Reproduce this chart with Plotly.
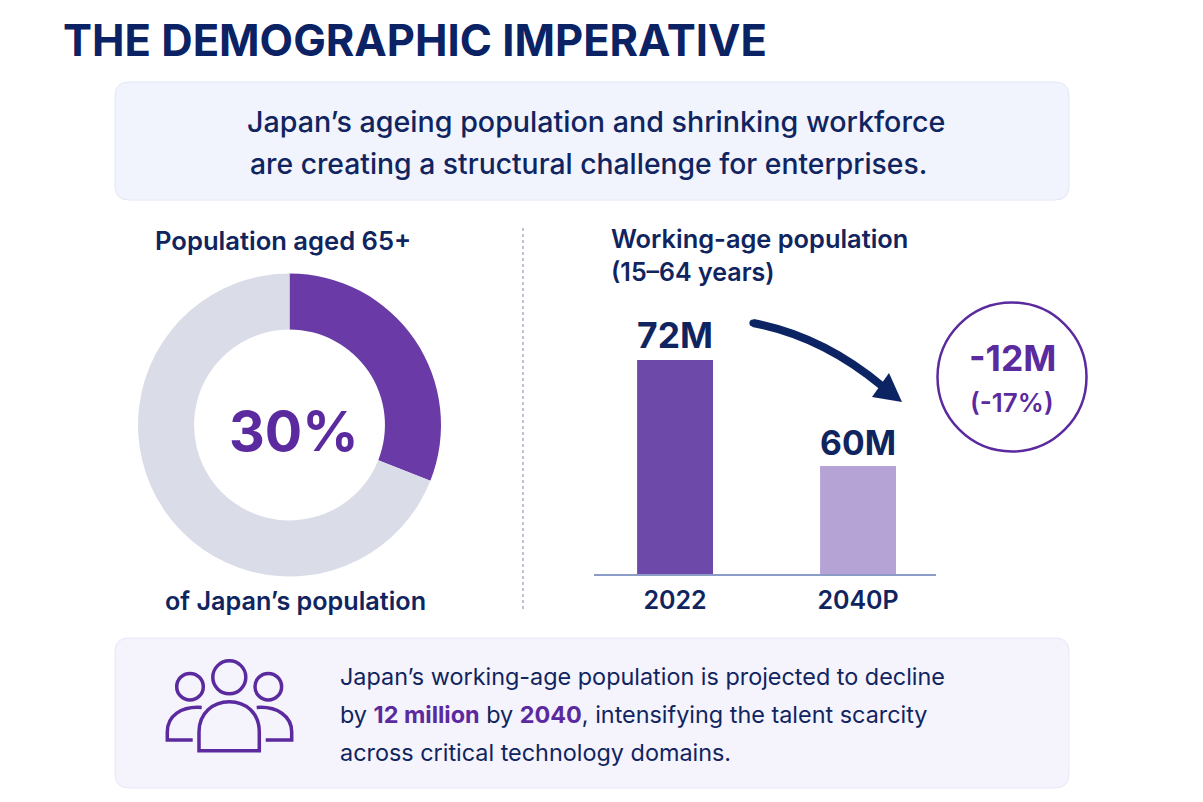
import plotly.graph_objects as go

W, H = 1203, 802
NAVY = '#10255f'
PURPLE = '#5a2a9e'
FONT = 'Inter'

# Chart data
donut_labels = ['Aged 65+', 'Other']
donut_values = [31, 69]
bar_years = ['2022', '2040P']
bar_values = [72, 60]
bar_text = ['72M', '60M']


def px(x):
    return x / W


def py(y):
    return 1 - y / H


def pt(x, y):
    return f'{px(x)},{py(y)}'


def rounded_rect(x0, y0, x1, y1, r):
    return (f'M{pt(x0 + r, y0)} L{pt(x1 - r, y0)} Q{pt(x1, y0)} {pt(x1, y0 + r)} '
            f'L{pt(x1, y1 - r)} Q{pt(x1, y1)} {pt(x1 - r, y1)} '
            f'L{pt(x0 + r, y1)} Q{pt(x0, y1)} {pt(x0, y1 - r)} '
            f'L{pt(x0, y0 + r)} Q{pt(x0, y0)} {pt(x0 + r, y0)} Z')


def path_shape(path, fill=None, line=None, width=0, layer='above'):
    return dict(type='path', xref='paper', yref='paper', path=path, layer=layer,
                fillcolor=fill or 'rgba(0,0,0,0)',
                line=dict(color=line or 'rgba(0,0,0,0)', width=width))


def circle(cx, cy, r, line, width, fill=None):
    return dict(type='circle', xref='paper', yref='paper',
                x0=px(cx - r), x1=px(cx + r), y0=py(cy + r), y1=py(cy - r),
                fillcolor=fill or 'rgba(0,0,0,0)', line=dict(color=line, width=width))


def label(x, y, text, size, color=NAVY, weight=600, anchor='center'):
    return dict(xref='paper', yref='paper', x=px(x), y=py(y), text=text, showarrow=False,
                xanchor=anchor, yanchor='middle', align=anchor,
                font=dict(family=FONT, size=size, color=color, weight=weight))


fig = go.Figure()

fig.add_trace(go.Pie(
    labels=donut_labels, values=donut_values, hole=0.63, sort=False,
    direction='clockwise', rotation=0, textinfo='none', showlegend=False,
    marker=dict(colors=['#6a3ba6', '#dadce8'], line=dict(width=0)),
    domain=dict(x=[px(138), px(441)], y=[py(577), py(273)]),
))

fig.add_trace(go.Bar(
    x=[0, 1], y=bar_values, text=bar_text, textposition='outside', textangle=0,
    cliponaxis=False, showlegend=False,
    textfont=dict(family=FONT, size=36, color=NAVY, weight=700),
    marker=dict(color=['#6d49a9', '#b5a3d6'], line=dict(width=0)),
    width=0.415,
))

fig.update_layout(
    width=W, height=H,
    margin=dict(l=0, r=0, t=0, b=0),
    paper_bgcolor='white', plot_bgcolor='rgba(0,0,0,0)',
    xaxis=dict(
        domain=[px(594), px(936)], range=[-0.443, 1.426],
        tickmode='array', tickvals=[0, 1], ticktext=bar_years,
        showgrid=False, zeroline=False, showline=True, linecolor='#8b9dc6', linewidth=2,
        ticks='', ticklabelstandoff=3,
        tickfont=dict(family=FONT, size=25, color=NAVY, weight=600),
    ),
    yaxis=dict(
        domain=[py(574), py(300)], range=[47.77, 78.8],
        visible=False, showgrid=False, zeroline=False,
    ),
    shapes=[
        path_shape(rounded_rect(115, 82, 1069, 200, 14), '#f1f3fd', '#e3e7f6', 1, 'below'),
        path_shape(rounded_rect(115, 638, 1069, 788, 14), '#f5f3fc', '#e9e6f6', 1, 'below'),
        dict(type='line', xref='paper', yref='paper', x0=px(523), x1=px(523), y0=py(228), y1=py(610),
             line=dict(color='#a9afcb', width=1.5, dash='dot')),
        # Arrow
        path_shape(f'M{pt(753, 323)} Q{pt(822, 336)} {pt(882, 386)}', None, '#0c2463', 8),
        circle(753, 323, 3.6, '#0c2463', 0, '#0c2463'),
        path_shape(f'M{pt(902, 402)} L{pt(872, 397)} L{pt(889, 373)} Z', '#0c2463'),
        # Change badge
        circle(1012, 377, 74.5, PURPLE, 2.5),
        # People icon
        circle(229.3, 677.3, 16.5, PURPLE, 3.5),
        circle(190, 686.7, 13.3, PURPLE, 3.5),
        circle(268.3, 686.7, 13.3, PURPLE, 3.5),
        path_shape(f'M{pt(199, 750.7)} L{pt(199, 732)} C{pt(199, 713)} {pt(213, 701.7)} {pt(229.3, 701.7)} '
                   f'C{pt(246, 701.7)} {pt(259.3, 713)} {pt(259.3, 732)} L{pt(259.3, 750.7)} Z',
                   None, PURPLE, 3.5),
        path_shape(f'M{pt(201.7, 707.5)} C{pt(181, 706)} {pt(167.3, 716)} {pt(167.3, 732)} '
                   f'L{pt(167.3, 740)} L{pt(192.7, 740)}', None, PURPLE, 3.5),
        path_shape(f'M{pt(256.7, 707.5)} C{pt(277, 706)} {pt(291.7, 716)} {pt(291.7, 732)} '
                   f'L{pt(291.7, 740)} L{pt(265.7, 740)}', None, PURPLE, 3.5),
    ],
    annotations=[
        label(61, 40, 'THE DEMOGRAPHIC IMPERATIVE', 43.5, '#0b2265', 700, 'left'),
        label(596, 122, 'Japan’s ageing population and shrinking workforce', 28.65, NAVY, 500),
        label(588, 164, 'are creating a structural challenge for enterprises.', 28.3, NAVY, 500),
        label(282.5, 240, 'Population aged 65+', 25.6, NAVY, 600),
        label(295.5, 601, 'of Japan’s population', 25.2, NAVY, 600),
        label(293.5, 430, '30%', 55.5, PURPLE, 700),
        label(609, 238, 'Working-age population', 25.4, NAVY, 600, 'left'),
        label(609, 272, '(15–64 years)', 25, NAVY, 600, 'left'),
        label(1012.7, 358, '-12M', 35.5, PURPLE, 700),
        label(1012, 402, '(-17%)', 26, PURPLE, 600),
        label(338, 676, 'Japan’s working-age population is projected to decline', 23.4, NAVY, 400, 'left'),
        label(338, 714, f'by <span style="color:{PURPLE}"><b>12 million</b></span> by '
                        f'<span style="color:{PURPLE}"><b>2040</b></span>, intensifying the talent scarcity',
              23.4, NAVY, 400, 'left'),
        label(338, 752, 'across critical technology domains.', 23.4, NAVY, 400, 'left'),
    ],
)

fig.write_html('out.html', post_script="document.body.style.margin='0';", config=dict(displayModeBar=False))
